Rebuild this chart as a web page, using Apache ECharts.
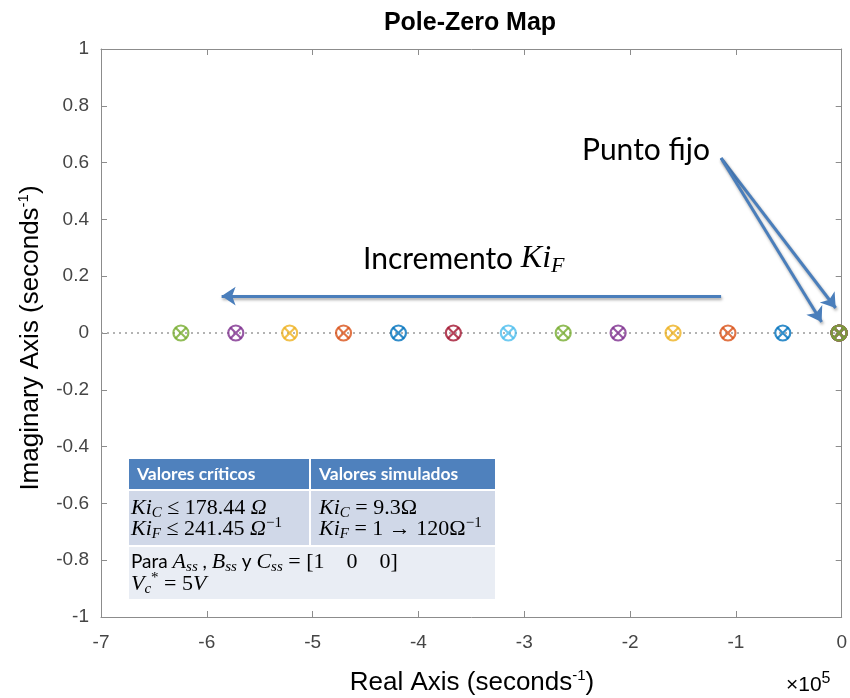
<!DOCTYPE html>
<html>
<head>
<meta charset="utf-8">
<script src="https://cdn.jsdelivr.net/npm/echarts@6/dist/echarts.min.js"></script>
<style>
  html, body { margin: 0; padding: 0; background: #ffffff; }
  #chart { width: 850px; height: 698px; }
</style>
</head>
<body>
<div id="chart"></div>
<script>
// Moving pole/zero pair of each closed-loop system, Ki_F swept 1 -> 120 (seconds^-1)
const movingRoots = [-55700, -107500, -159400, -211300, -263200, -315100,
                     -367000, -418900, -470800, -521700, -572600, -624500];
// Pole/zero shared by every system, right next to the origin (seconds^-1)
const fixedRoot = -2500;
// All roots lie on the real axis
const imagPart = 0;

// Axis ranges and ticks
const realRange = [-700000, 0];
const realStep = 100000;
const imagRange = [-1, 1];
const imagStep = 0.2;

// Annotation arrows in axis units [real, imag]
const sweepArrow = [[-114000, 0.13], [-586000, 0.13]];
const fixedArrows = [
  [[-114000, 0.616], [-5700, 0.088]],
  [[-114000, 0.616], [-19000, 0.039]]
];

// Line colours, cycled per system
const palette = ['#0072BD', '#D95319', '#EDB120', '#7E2F8E', '#77AC30', '#4DBEEE', '#A2142F'];

const axisGray = '#8c8c8c';
const labelGray = '#454545';
const sansFont = '"Liberation Sans", Arial, sans-serif';
const calFont = 'Lato, "Open Sans", sans-serif';
const mathFont = '"Liberation Serif", "DejaVu Serif", serif';
const arrowBlue = '#4A7EBB';

const zeroSymbol = 'circle';
const poleSymbol = 'path://M0,0L10,10M0,10L10,0';

const series = [];

// Dotted reference line along the real axis
series.push({
  type: 'line',
  data: [[realRange[0], imagPart], [realRange[1], imagPart]],
  symbol: 'none',
  silent: true,
  lineStyle: { color: '#9a9a9a', width: 1.5, type: [2, 4] },
  z: 1
});

movingRoots.forEach(function (r, i) {
  const c = palette[i % palette.length];
  const pts = [[r, imagPart], [fixedRoot, imagPart]];
  series.push({
    type: 'scatter',
    name: 'zeros ' + (i + 1),
    data: pts,
    symbol: zeroSymbol,
    symbolSize: 15,
    itemStyle: { color: 'rgba(0,0,0,0)', borderColor: c, borderWidth: 2.2 },
    z: 3
  });
  series.push({
    type: 'scatter',
    name: 'poles ' + (i + 1),
    data: pts,
    symbol: poleSymbol,
    symbolSize: 11,
    itemStyle: { color: 'none', borderColor: c, borderWidth: 2.2 },
    z: 3
  });
});

// Arrows
const arrowStyle = {
  color: arrowBlue, width: 3, opacity: 1,
  shadowColor: 'rgba(0,0,0,0.35)', shadowBlur: 3, shadowOffsetX: 1, shadowOffsetY: 2
};
series.push({
  type: 'lines',
  coordinateSystem: 'cartesian2d',
  data: [{ coords: sweepArrow }].concat(fixedArrows.map(function (a) { return { coords: a }; })),
  symbol: ['none', 'arrow'],
  symbolSize: 14,
  lineStyle: arrowStyle,
  silent: true,
  z: 5
});

const mathRich = {
  m: { fontFamily: mathFont, fontStyle: 'italic', fontSize: 22, lineHeight: 26, color: '#000' },
  r: { fontFamily: mathFont, fontSize: 22, lineHeight: 26, color: '#000' },
  t: { fontFamily: calFont, fontSize: 19, lineHeight: 26, color: '#000' },
  s: { fontFamily: mathFont, fontStyle: 'italic', fontSize: 15, lineHeight: 15, verticalAlign: 'bottom', color: '#000' },
  p: { fontFamily: mathFont, fontSize: 15, lineHeight: 15, verticalAlign: 'top', color: '#000' }
};

function mathLine(x, y, text) {
  return {
    type: 'text', x: x, y: y, z: 20,
    style: { text: text, rich: mathRich, verticalAlign: 'middle', align: 'left' }
  };
}

const tableX = 129, tableW = 366, colX = 310;
const graphic = [
  // Title
  {
    type: 'text', x: 470, y: 23,
    style: { text: 'Pole-Zero Map', font: 'bold 25px ' + sansFont, fill: '#000', align: 'center', verticalAlign: 'middle' }
  },
  // Axis names
  {
    type: 'text', x: 472, y: 683,
    style: {
      text: '{n|Real Axis (seconds}{e|-1}{n|)}', align: 'center', verticalAlign: 'middle',
      rich: {
        n: { fontFamily: sansFont, fontSize: 26, lineHeight: 30, color: '#1a1a1a' },
        e: { fontFamily: sansFont, fontSize: 15, lineHeight: 16, verticalAlign: 'top', color: '#1a1a1a' }
      }
    }
  },
  {
    type: 'text', x: 31, y: 338, rotation: Math.PI / 2,
    style: {
      text: '{n|Imaginary Axis (seconds}{e|-1}{n|)}', align: 'center', verticalAlign: 'middle',
      rich: {
        n: { fontFamily: sansFont, fontSize: 26, lineHeight: 30, color: '#1a1a1a' },
        e: { fontFamily: sansFont, fontSize: 15, lineHeight: 16, verticalAlign: 'top', color: '#1a1a1a' }
      }
    }
  },
  // Exponent of the real axis
  {
    type: 'text', x: 786, y: 685,
    style: {
      text: '{n|\u00d710}{e|5}', align: 'left', verticalAlign: 'middle',
      rich: {
        n: { fontFamily: sansFont, fontSize: 21, lineHeight: 28, color: labelGray },
        e: { fontFamily: sansFont, fontSize: 16, lineHeight: 16, verticalAlign: 'top', color: labelGray }
      }
    }
  },
  // Annotations
  {
    type: 'text', x: 582, y: 150, z: 20,
    style: { text: 'Punto fijo', font: '30px ' + calFont, fill: '#000', align: 'left', verticalAlign: 'middle' }
  },
  {
    type: 'text', x: 363, y: 259, z: 20,
    style: {
      text: '{a|Incremento }{m|Ki}{s|F}', align: 'left', verticalAlign: 'middle',
      rich: {
        a: { fontFamily: calFont, fontSize: 30, lineHeight: 36, color: '#000' },
        m: { fontFamily: mathFont, fontStyle: 'italic', fontSize: 32, lineHeight: 36, color: '#000' },
        s: { fontFamily: mathFont, fontStyle: 'italic', fontSize: 22, lineHeight: 20, verticalAlign: 'bottom', color: '#000' }
      }
    }
  },
  // Table
  { type: 'rect', z: 15, shape: { x: tableX, y: 459, width: tableW, height: 30 }, style: { fill: '#4F81BD' } },
  { type: 'rect', z: 15, shape: { x: tableX, y: 491, width: tableW, height: 54 }, style: { fill: '#D0D8E8' } },
  { type: 'rect', z: 15, shape: { x: tableX, y: 547, width: tableW, height: 52 }, style: { fill: '#E9EDF4' } },
  { type: 'rect', z: 16, shape: { x: colX - 1, y: 459, width: 2, height: 86 }, style: { fill: '#ffffff' } },
  {
    type: 'text', x: 137, y: 474, z: 20,
    style: { text: 'Valores críticos', font: 'bold 17.5px ' + calFont, fill: '#ffffff', align: 'left', verticalAlign: 'middle' }
  },
  {
    type: 'text', x: 319, y: 474, z: 20,
    style: { text: 'Valores simulados', font: 'bold 17.5px ' + calFont, fill: '#ffffff', align: 'left', verticalAlign: 'middle' }
  },
  mathLine(131, 508, '{m|Ki}{s|C}{r| \u2264 178.44 }{m|\u03a9}'),
  mathLine(131, 529, '{m|Ki}{s|F}{r| \u2264 241.45 }{m|\u03a9}{p|\u22121}'),
  mathLine(319, 508, '{m|Ki}{s|C}{r| = 9.3\u03a9}'),
  mathLine(319, 529, '{m|Ki}{s|F}{r| = 1 \u2192 120\u03a9}{p|\u22121}'),
  mathLine(131, 562, '{t|Para }{m|A}{s|ss}{t| , }{m|B}{s|ss}{t| y }{m|C}{s|ss}{r| = [1    0    0]}'),
  mathLine(131, 584, '{m|V}{s|c}{p|*}{r| = 5}{m|V}')
];

function axisBase(extra) {
  return Object.assign({
    type: 'value',
    axisLine: { show: true, onZero: false, lineStyle: { color: axisGray, width: 1 } },
    axisTick: { show: true, inside: true, length: 6, lineStyle: { color: axisGray } },
    splitLine: { show: false }
  }, extra);
}

const option = {
  animation: false,
  backgroundColor: '#ffffff',
  grid: { left: 101, top: 49, right: 7, bottom: 81, containLabel: false },
  xAxis: [
    axisBase({
      min: realRange[0], max: realRange[1], interval: realStep, position: 'bottom',
      axisLabel: {
        margin: 16, color: labelGray, fontFamily: sansFont, fontSize: 19,
        formatter: function (v) { return String(Math.round(v / 1e5)); }
      }
    }),
    axisBase({
      min: realRange[0], max: realRange[1], interval: realStep, position: 'top',
      axisLabel: { show: false }
    })
  ],
  yAxis: [
    axisBase({
      min: imagRange[0], max: imagRange[1], interval: imagStep, position: 'left',
      axisLabel: {
        margin: 12, color: labelGray, fontFamily: sansFont, fontSize: 19,
        formatter: function (v) { return String(Math.round(v * 10) / 10); }
      }
    }),
    axisBase({
      min: imagRange[0], max: imagRange[1], interval: imagStep, position: 'right',
      axisLabel: { show: false }
    })
  ],
  series: series,
  graphic: graphic
};

const chart = echarts.init(document.getElementById('chart'), null, { renderer: 'canvas' });
chart.setOption(option);
</script>
</body>
</html>
